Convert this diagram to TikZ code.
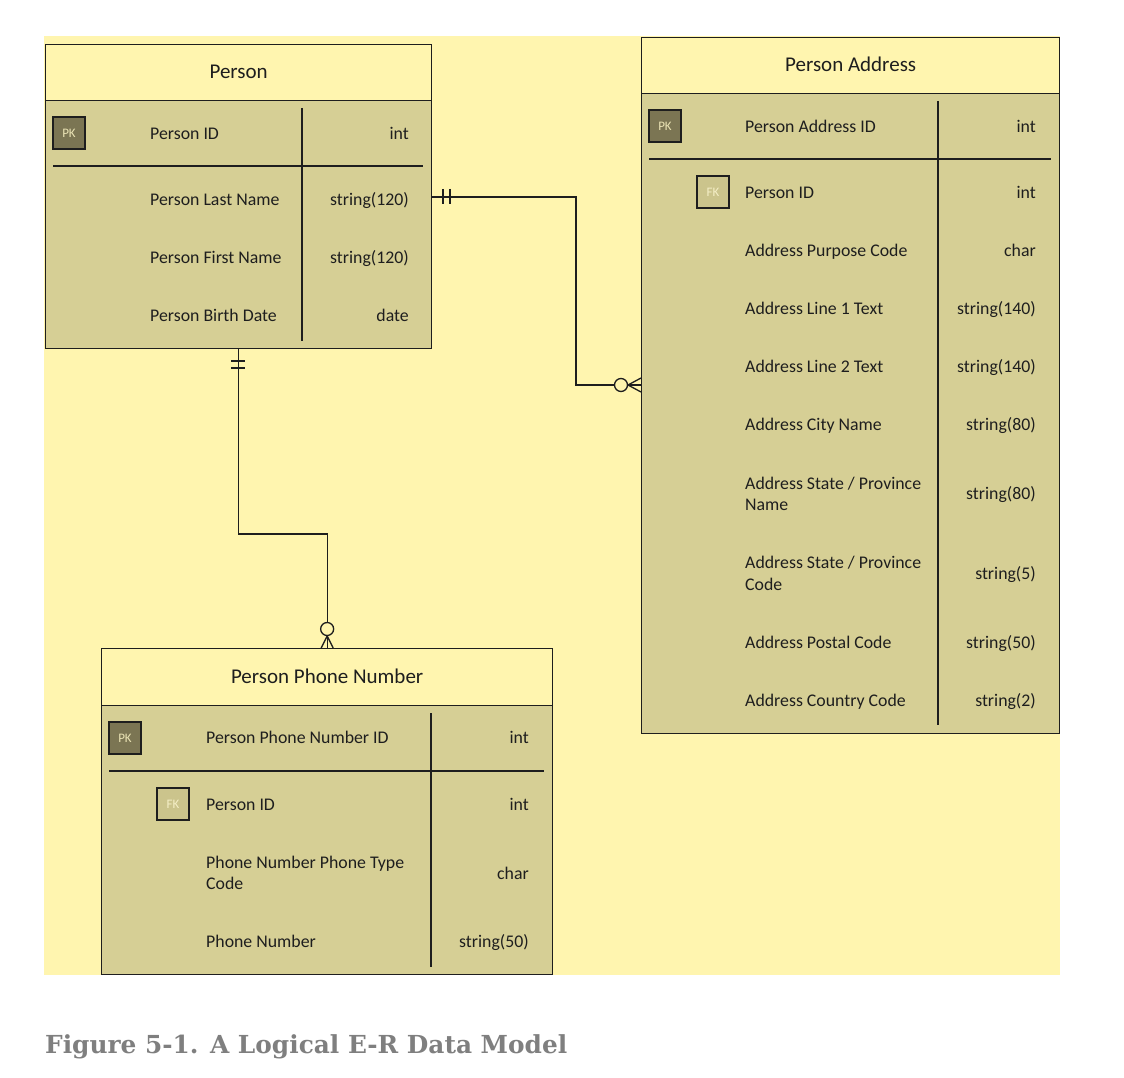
\documentclass[tikz,border=0pt]{standalone}
\usepackage{fontspec}
\setmainfont{Carlito}
\newfontfamily\capfont{DejaVu Serif}
\definecolor{bgy}{HTML}{FFF5AF}
\definecolor{body}{HTML}{D6CF95}
\definecolor{pkc}{HTML}{7B7553}
\definecolor{pktext}{HTML}{EAE3B4}
\definecolor{fkc}{HTML}{CBC48C}
\definecolor{fktext}{HTML}{F4EEC6}
\definecolor{linec}{HTML}{1E1E1E}
\definecolor{capc}{HTML}{7F7F7F}
\tikzset{
  ent/.style={draw=linec, line width=1.3pt, fill=body, anchor=north west, inner sep=0pt},
  hdr/.style={draw=linec, line width=1.3pt, fill=bgy, anchor=north west, inner sep=0pt},
  ttl/.style={font=\fontsize{21}{25}\selectfont, text=linec, inner sep=0pt, text height=0.66em, text depth=0pt, yshift=-3pt},
  fname/.style={anchor=west, font=\fontsize{17.8}{21}\selectfont, text=linec, inner sep=0pt, text height=0.64em, text depth=0pt, yshift=-3pt},
  ftype/.style={anchor=east, font=\fontsize{17.8}{21}\selectfont, text=linec, inner sep=0pt, text height=0.64em, text depth=0pt, yshift=-3pt},
  pkbox/.style={draw=linec, line width=1.2pt, fill=pkc, text=pktext, minimum width=32pt, minimum height=32pt, inner sep=0pt, font=\fontsize{13}{15}\selectfont},
  fkbox/.style={draw=linec, line width=1.2pt, fill=fkc, text=fktext, minimum width=32pt, minimum height=32pt, inner sep=0pt, font=\fontsize{13}{15}\selectfont},
  rule/.style={draw=linec, line width=1.3pt},
  conn/.style={draw=linec, line width=1.3pt},
  ring/.style={draw=linec, line width=1.3pt, fill=bgy},
}
\begin{document}
\begin{tikzpicture}[x=1pt, y=-1pt]
\useasboundingbox (0,0) rectangle (1124,1078);
\fill[white] (0,0) rectangle (1124,1078);
\fill[bgy] (44,36) rectangle (1060,975);

% ---------------- Person ----------------
\node[ent, minimum width=386pt, minimum height=304pt] (person) at (45,44) {};
\node[hdr, minimum width=386pt, minimum height=56pt] (personh) at (45,44) {};
\node[ttl] (persont) at (personh.center) {Person};
\draw[rule] (302,108) -- (302,341);
\draw[rule] (53,166) -- (423,166);
\node[pkbox] (p-pk) at (69,133) {PK};
\node[fname] (p1) at (150,133) {Person ID};
\node[ftype] (p1t) at (409,133) {int};
\node[fname] (p2) at (150,199) {Person Last Name};
\node[ftype] (p2t) at (409,199) {string(120)};
\node[fname] (p3) at (150,257) {Person First Name};
\node[ftype] (p3t) at (409,257) {string(120)};
\node[fname] (p4) at (150,315) {Person Birth Date};
\node[ftype] (p4t) at (409,315) {date};

% ---------------- Person Address ----------------
\node[ent, minimum width=418pt, minimum height=696pt] (addr) at (641,37) {};
\node[hdr, minimum width=418pt, minimum height=56pt] (addrh) at (641,37) {};
\node[ttl] (addrt) at (addrh.center) {Person Address};
\draw[rule] (938,101) -- (938,725);
\draw[rule] (649,159) -- (1051,159);
\node[pkbox] (a-pk) at (665,126) {PK};
\node[fkbox] (a-fk) at (713,192) {FK};
\node[fname] (a1) at (745,126) {Person Address ID};
\node[ftype] (a1t) at (1036,126) {int};
\node[fname] (a2) at (745,192) {Person ID};
\node[ftype] (a2t) at (1036,192) {int};
\node[fname] (a3) at (745,250) {Address Purpose Code};
\node[ftype] (a3t) at (1036,250) {char};
\node[fname] (a4) at (745,308) {Address Line 1 Text};
\node[ftype] (a4t) at (1036,308) {string(140)};
\node[fname] (a5) at (745,366) {Address Line 2 Text};
\node[ftype] (a5t) at (1036,366) {string(140)};
\node[fname] (a6) at (745,424) {Address City Name};
\node[ftype] (a6t) at (1036,424) {string(80)};
\node[fname] (a7) at (745,483) {Address State / Province};
\node[fname] (a7b) at (745,504) {Name};
\node[ftype] (a7t) at (1036,493) {string(80)};
\node[fname] (a8) at (745,562) {Address State / Province};
\node[fname] (a8b) at (745,584) {Code};
\node[ftype] (a8t) at (1036,573) {string(5)};
\node[fname] (a9) at (745,642) {Address Postal Code};
\node[ftype] (a9t) at (1036,642) {string(50)};
\node[fname] (a10) at (745,700) {Address Country Code};
\node[ftype] (a10t) at (1036,700) {string(2)};

% ---------------- Person Phone Number ----------------
\node[ent, minimum width=451pt, minimum height=326pt] (phone) at (101,648) {};
\node[hdr, minimum width=451pt, minimum height=57pt] (phoneh) at (101,648) {};
\node[ttl] (phonet) at (phoneh.center) {Person Phone Number};
\draw[rule] (431,713) -- (431,967);
\draw[rule] (109,771) -- (544,771);
\node[pkbox] (n-pk) at (125,738) {PK};
\node[fkbox] (n-fk) at (173,804) {FK};
\node[fname] (n1) at (206,737) {Person Phone Number ID};
\node[ftype] (n1t) at (529,737) {int};
\node[fname] (n2) at (206,804) {Person ID};
\node[ftype] (n2t) at (529,804) {int};
\node[fname] (n3) at (206,862) {Phone Number Phone Type};
\node[fname] (n3b) at (206,883) {Code};
\node[ftype] (n3t) at (529,873) {char};
\node[fname] (n4) at (206,941) {Phone Number};
\node[ftype] (n4t) at (529,941) {string(50)};

% ---------------- Connector Person -> Person Address ----------------
\coordinate (c1a) at (person.east |- 0,197);
\coordinate (c1b) at (addr.west |- 0,385);
\draw[conn] (c1a) -- (576,197) -- (576,385) -- (614.5,385);
\draw[conn] (443,189) -- (443,204);
\draw[conn] (450,189) -- (450,204);
\draw[ring] (621,385) circle (6.5pt);
\draw[conn] (627.5,385) -- (c1b);
\draw[conn] (628,385) -- ([yshift=-7pt]c1b);
\draw[conn] (628,385) -- ([yshift=7pt]c1b);

% ---------------- Connector Person -> Person Phone Number ----------------
\draw[conn] (person.south) -- (person.south |- 0,534) -- (phone.north |- 0,534) -- ([yshift=25.5pt]phone.north);
\draw[conn] (231,361) -- (245,361);
\draw[conn] (231,368) -- (245,368);
\draw[ring] ([yshift=19pt]phone.north) circle (6.5pt);
\draw[conn] ([yshift=12.5pt]phone.north) -- (phone.north);
\draw[conn] ([yshift=12pt]phone.north) -- ([xshift=-6pt]phone.north);
\draw[conn] ([yshift=12pt]phone.north) -- ([xshift=6pt]phone.north);

% ---------------- Caption ----------------
\node[anchor=base west, inner sep=0pt, text=capc] (caption) at (45,1053)
  {\resizebox{522pt}{!}{\capfont\bfseries Figure 5-1. A Logical E-R Data Model}};
\end{tikzpicture}
\end{document}
